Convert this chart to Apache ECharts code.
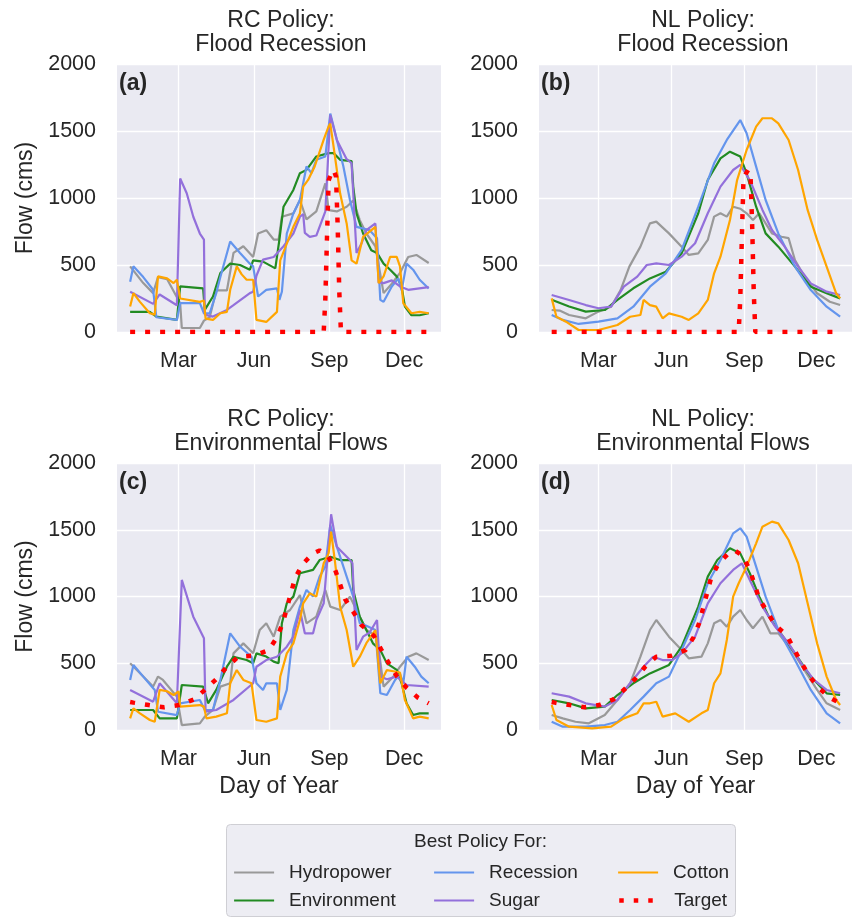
<!DOCTYPE html>
<html>
<head>
<meta charset="utf-8">
<script src="https://cdn.jsdelivr.net/npm/echarts@6/dist/echarts.min.js"></script>
<style>
  html, body { margin: 0; padding: 0; background: #ffffff; }
  #chart { width: 852px; height: 917px; }
</style>
</head>
<body>
<div id="chart"></div>
<script>
// Daily flow (cms) by day of year for the best policy of each objective.
// Each series is a list of [dayOfYear, flow] pairs.

const MONTH_TICKS = [60, 152, 244, 335];
const MONTH_LABELS = ['Mar', 'Jun', 'Sep', 'Dec'];
const FLOW_TICKS = [0, 500, 1000, 1500, 2000];

const SERIES_NAMES = ['Hydropower', 'Environment', 'Recession', 'Sugar', 'Cotton', 'Target'];
const PANEL_TITLES = ['RC Policy:\nFlood Recession', 'NL Policy:\nFlood Recession',
                      'RC Policy:\nEnvironmental Flows', 'NL Policy:\nEnvironmental Flows'];
const PANEL_LETTERS = ['(a)', '(b)', '(c)', '(d)'];
const LEGEND_TITLE = 'Best Policy For:';

// Target hydrographs
const targetFloodRecession = [[1,0],[237,0],[239,250],[241,700],[243,1130],[246,1180],[249,1210],[252,1160],[254,800],[256,300],[258,0],[365,0]];
const targetEnvFlows = [[1,210],[5,205],[24,187],[42,170],[61,187],[79,230],[93,305],[107,387],[119,474],[133,549],[152,557],[170,599],[180,694],[187,799],[192,911],[197,1024],[202,1136],[211,1241],[224,1323],[232,1345],[242,1306],[251,1199],[257,1091],[263,981],[273,886],[283,786],[298,707],[307,604],[316,504],[326,405],[338,317],[352,242],[365,200]];

// (a) RC policy, flood recession target
const rcFloodHydro = [[1,490],[17,365],[29,290],[35,410],[46,395],[62,215],[64,30],[86,30],[91,85],[98,110],[106,310],[119,310],[127,590],[139,640],[151,560],[157,735],[167,760],[176,690],[182,690],[186,860],[200,885],[208,985],[216,840],[228,900],[239,1110],[243,910],[253,900],[265,935],[273,980],[281,835],[289,735],[300,640],[310,290],[320,360],[330,440],[340,560],[350,575],[365,515]];
const rcFloodEnv = [[1,150],[25,150],[33,115],[58,90],[62,340],[90,325],[92,165],[102,265],[111,440],[123,510],[135,500],[147,465],[151,535],[163,525],[178,475],[183,690],[188,935],[200,1060],[208,1185],[216,1210],[228,1310],[243,1335],[249,1335],[257,1285],[271,1275],[273,1085],[277,885],[285,735],[295,610],[302,590],[310,510],[318,465],[326,415],[332,340],[336,190],[344,125],[354,125],[365,140]];
const rcFloodRecession = [[1,375],[5,490],[17,410],[29,315],[33,110],[58,90],[62,215],[86,215],[91,140],[98,140],[106,290],[111,410],[123,675],[135,590],[147,510],[151,490],[157,265],[167,315],[180,325],[183,240],[186,300],[192,735],[200,885],[208,985],[216,1235],[222,1185],[228,1285],[239,1310],[245,1630],[249,1535],[261,1235],[269,985],[277,785],[293,760],[302,700],[306,240],[310,225],[320,340],[328,400],[332,310],[338,510],[346,465],[354,390],[365,325]];
const rcFloodSugar = [[1,300],[29,210],[37,280],[58,200],[62,1145],[70,1035],[78,860],[86,735],[91,690],[92,130],[102,115],[119,165],[127,200],[147,290],[151,300],[155,420],[163,540],[176,560],[188,640],[200,735],[208,860],[212,880],[214,740],[220,710],[228,720],[239,900],[245,1620],[253,1433],[265,1290],[271,1260],[277,590],[283,660],[289,760],[300,810],[304,370],[310,365],[320,385],[330,340],[340,315],[365,335]];
const rcFloodCotton = [[1,190],[5,290],[13,225],[25,140],[31,130],[35,415],[46,400],[54,365],[58,390],[62,250],[86,225],[91,235],[93,100],[102,90],[111,140],[119,150],[123,315],[131,490],[137,430],[143,390],[151,390],[155,90],[167,75],[180,150],[184,535],[192,660],[200,785],[208,885],[212,1085],[218,1135],[226,1235],[237,1435],[243,1535],[245,1555],[249,1385],[257,1035],[265,810],[271,535],[277,510],[285,710],[300,785],[304,365],[310,415],[318,560],[326,560],[330,490],[334,215],[344,140],[354,150],[365,140]];

// (b) NL policy, flood recession target
const nlFloodHydro = [[1,164],[11,160],[23,127],[44,102],[60,152],[76,189],[88,313],[99,488],[113,637],[125,811],[133,824],[149,736],[165,637],[174,575],[186,587],[198,687],[206,861],[214,886],[222,861],[230,935],[239,920],[247,886],[255,836],[263,886],[271,811],[279,736],[291,711],[300,700],[308,537],[320,413],[336,289],[352,226],[365,201]];
const nlFloodEnv = [[1,240],[23,190],[44,152],[68,164],[84,240],[104,326],[125,400],[145,450],[165,587],[186,886],[198,1134],[214,1296],[226,1346],[239,1309],[247,1184],[259,935],[271,736],[287,637],[308,488],[328,338],[348,289],[365,251]];
const nlFloodRecession = [[1,127],[15,90],[35,60],[60,77],[84,102],[104,189],[125,338],[145,438],[165,612],[186,935],[206,1259],[222,1433],[239,1582],[247,1483],[259,1234],[271,985],[287,736],[308,488],[328,313],[348,189],[365,114]];
const nlFloodSugar = [[1,276],[23,239],[44,201],[60,177],[76,189],[92,338],[109,413],[121,500],[133,512],[149,500],[165,562],[182,662],[198,886],[214,1085],[230,1209],[239,1247],[251,1134],[267,911],[279,761],[295,637],[312,488],[328,363],[348,301],[365,276]];
const nlFloodCotton = [[1,251],[7,114],[19,77],[35,15],[60,15],[84,52],[100,114],[113,127],[117,239],[125,201],[133,189],[141,102],[149,139],[165,114],[174,90],[186,139],[198,239],[206,438],[214,562],[226,836],[235,1134],[247,1358],[259,1533],[267,1595],[279,1595],[287,1557],[300,1433],[312,1209],[324,911],[336,687],[348,488],[360,289],[365,251]];

// (c) RC policy, environmental flows target
const rcEnvHydro = [[1,500],[17,400],[29,325],[35,400],[41,375],[58,250],[64,37],[86,50],[92,100],[102,150],[111,325],[123,350],[127,574],[139,649],[151,575],[159,749],[167,799],[176,699],[184,849],[196,899],[208,1011],[216,799],[228,849],[239,1049],[245,924],[257,899],[269,999],[281,849],[289,749],[302,700],[310,325],[322,400],[330,474],[340,549],[350,574],[365,524]];
const rcEnvEnv = [[1,150],[29,150],[37,87],[58,87],[64,337],[90,325],[96,200],[106,300],[119,474],[127,549],[143,524],[151,500],[155,574],[167,550],[176,512],[182,500],[186,799],[192,949],[200,999],[208,1174],[224,1199],[232,1273],[245,1298],[257,1273],[271,1273],[273,1049],[281,849],[289,749],[297,649],[306,599],[314,499],[326,450],[332,350],[338,200],[346,112],[354,125],[365,125]];
const rcEnvRecession = [[1,375],[5,487],[17,400],[31,300],[35,137],[58,112],[62,200],[86,225],[92,150],[102,150],[111,375],[123,724],[135,624],[149,549],[155,350],[163,300],[167,350],[180,350],[184,150],[192,300],[200,749],[208,924],[216,1049],[224,1000],[232,1149],[239,1224],[245,1536],[253,1373],[265,1149],[273,999],[281,799],[289,780],[300,749],[306,275],[314,262],[324,375],[330,420],[334,350],[338,549],[348,474],[356,400],[365,350]];
const rcEnvSugar = [[1,300],[29,212],[37,350],[58,200],[64,1124],[78,849],[91,687],[93,137],[106,150],[127,225],[151,350],[155,474],[167,524],[180,549],[192,624],[200,699],[208,899],[214,724],[224,724],[228,824],[237,949],[246,1616],[253,1373],[269,1273],[272,1250],[277,599],[285,699],[293,730],[302,824],[306,400],[314,380],[326,400],[338,337],[365,325]];
const rcEnvCotton = [[1,87],[5,162],[13,125],[25,75],[31,62],[37,300],[46,290],[54,262],[60,290],[62,175],[86,187],[91,175],[94,87],[106,100],[119,125],[123,350],[131,449],[139,375],[149,350],[155,75],[167,62],[180,87],[184,400],[192,574],[200,649],[208,824],[212,949],[220,1024],[228,999],[237,1249],[243,1323],[246,1486],[251,1249],[257,924],[265,749],[273,474],[281,549],[289,650],[300,749],[306,350],[314,449],[322,440],[330,430],[336,225],[346,87],[354,100],[365,87]];

// (d) NL policy, environmental flows target
const nlEnvHydro = [[1,112],[15,87],[31,62],[48,50],[68,112],[84,225],[100,350],[113,549],[125,749],[133,824],[149,699],[165,599],[174,537],[190,549],[198,649],[206,799],[214,824],[222,774],[230,849],[239,899],[247,824],[255,762],[267,849],[277,724],[287,724],[304,599],[320,449],[336,300],[348,200],[365,150]];
const nlEnvEnv = [[1,225],[23,200],[44,162],[68,175],[84,262],[104,350],[125,424],[149,487],[165,624],[186,924],[198,1149],[210,1273],[226,1361],[239,1323],[251,1174],[263,999],[275,849],[287,749],[308,574],[328,400],[348,275],[365,262]];
const nlEnvRecession = [[1,62],[15,25],[44,25],[68,37],[84,62],[100,150],[117,250],[133,350],[149,400],[165,599],[182,824],[198,1099],[214,1273],[230,1473],[239,1511],[247,1448],[259,1224],[271,999],[287,749],[308,524],[328,300],[348,125],[365,50]];
const nlEnvSugar = [[1,275],[23,250],[44,200],[68,175],[84,225],[100,350],[117,474],[129,549],[141,524],[153,524],[165,574],[182,699],[198,949],[214,1099],[230,1199],[241,1249],[251,1124],[267,924],[283,774],[300,649],[316,499],[332,375],[348,300],[365,275]];
const nlEnvCotton = [[1,187],[7,75],[23,25],[52,12],[76,25],[92,87],[109,125],[117,200],[125,200],[133,212],[141,100],[157,125],[174,62],[190,125],[198,150],[206,350],[214,424],[222,674],[230,999],[237,1099],[247,1224],[259,1398],[267,1523],[279,1561],[287,1548],[300,1423],[312,1249],[324,949],[336,649],[348,400],[360,225],[365,187]];

const PANEL_DATA = [
  [rcFloodHydro, rcFloodEnv, rcFloodRecession, rcFloodSugar, rcFloodCotton, targetFloodRecession],
  [nlFloodHydro, nlFloodEnv, nlFloodRecession, nlFloodSugar, nlFloodCotton, targetFloodRecession],
  [rcEnvHydro, rcEnvEnv, rcEnvRecession, rcEnvSugar, rcEnvCotton, targetEnvFlows],
  [nlEnvHydro, nlEnvEnv, nlEnvRecession, nlEnvSugar, nlEnvCotton, targetEnvFlows]
];

// ---- styling / layout ----
const FONT = '"Liberation Sans", Arial, sans-serif';
const INK = '#262626';
const COLORS = ['#999999', '#228b22', '#6495ed', '#9370db', '#ffa500', '#ff0000'];
const TARGET_DASH = [5, 10];
const GRIDS = [
  { left: 117, top: 64, width: 324, height: 268 },
  { left: 539, top: 64, width: 324, height: 268 },
  { left: 117, top: 463, width: 324, height: 267 },
  { left: 539, top: 463, width: 324, height: 267 }
];

const grid = GRIDS.map(g => ({
  left: g.left, top: g.top, width: g.width, height: g.height,
  show: true, backgroundColor: '#eaeaf2', borderWidth: 0, containLabel: false
}));

const xAxis = GRIDS.map((g, i) => ({
  type: 'value', gridIndex: i, min: -15, max: 380,
  axisLine: { show: false },
  axisTick: { show: false, customValues: MONTH_TICKS },
  axisLabel: {
    customValues: MONTH_TICKS,
    formatter: v => MONTH_LABELS[MONTH_TICKS.indexOf(v)] || '',
    fontFamily: FONT, fontSize: 21.5, color: INK, margin: 18
  },
  splitLine: { show: true, lineStyle: { color: '#ffffff', width: 1.3 } },
  name: i >= 2 ? 'Day of Year' : '',
  nameLocation: 'middle', nameGap: 45,
  nameTextStyle: { fontFamily: FONT, fontSize: 23, color: INK }
}));

const yAxis = GRIDS.map((g, i) => ({
  type: 'value', gridIndex: i, min: FLOW_TICKS[0], max: FLOW_TICKS[FLOW_TICKS.length - 1], interval: 500,
  axisLine: { show: false }, axisTick: { show: false },
  axisLabel: { fontFamily: FONT, fontSize: 21.5, color: INK, margin: 21, formatter: v => String(v) },
  splitLine: { show: true, lineStyle: { color: '#ffffff', width: 1.3 } },
  name: i % 2 === 0 ? 'Flow (cms)' : '',
  nameLocation: 'middle', nameGap: 80,
  nameTextStyle: { fontFamily: FONT, fontSize: 23, color: INK }
}));

const series = [];
PANEL_DATA.forEach((lines, p) => {
  lines.forEach((data, k) => {
    const isTarget = k === 5;
    series.push({
      type: 'line', name: SERIES_NAMES[k], data: data,
      xAxisIndex: p, yAxisIndex: p,
      symbol: 'none', showSymbol: false, animation: false,
      z: 2 + k,
      itemStyle: { color: COLORS[k] },
      lineStyle: isTarget
        ? { color: COLORS[k], width: 4.5, type: TARGET_DASH, cap: 'butt' }
        : { color: COLORS[k], width: 2.2 }
    });
  });
});

const title = GRIDS.map((g, i) => ({
  text: PANEL_TITLES[i],
  left: g.left + g.width / 2 + 2, top: i < 2 ? 9 : 408, padding: 0,
  textAlign: 'center',
  textStyle: { fontFamily: FONT, fontSize: 23, fontWeight: 'normal', color: INK, lineHeight: 24 }
}));

// One legend per entry so the entries sit in three columns of two rows.
const LEGEND_SLOTS = [
  { name: 'Hydropower', left: 233, top: 863 },
  { name: 'Environment', left: 233, top: 891 },
  { name: 'Recession', left: 433, top: 863 },
  { name: 'Sugar', left: 433, top: 891 },
  { name: 'Cotton', left: 617, top: 863 },
  { name: 'Target', left: 617, top: 891 }
];
const legend = LEGEND_SLOTS.map((s, i) => {
  const k = SERIES_NAMES.indexOf(s.name);
  return {
    data: [s.name], left: s.left, top: s.top, padding: 0,
    orient: 'horizontal', itemWidth: 40, itemHeight: 14,
    selectedMode: false,
    itemStyle: { opacity: 0, borderWidth: 0 },
    lineStyle: k === 5
      ? { color: COLORS[k], width: 4.5, type: [4.5, 10], cap: 'butt' }
      : { color: COLORS[k], width: 2.2, type: 'solid' },
    textStyle: { fontFamily: FONT, fontSize: 19, color: INK, lineHeight: 14, padding: [0, 0, 0, 10] }
  };
});

const graphic = [
  { type: 'rect', left: 226, top: 824, z: -1,
    shape: { width: 509, height: 92, r: 4 },
    style: { fill: '#ededf3', stroke: '#cfcfd4', lineWidth: 1 } },
  { type: 'text', left: 414, top: 832,
    style: { text: LEGEND_TITLE, fontFamily: FONT, fontSize: 19, fill: INK } }
].concat(GRIDS.map((g, i) => ({
  type: 'text', left: g.left + 2, top: g.top + 8, z: 20,
  style: { text: PANEL_LETTERS[i], fontFamily: FONT, fontSize: 23, fontWeight: 'bold', fill: INK }
})));

const chart = echarts.init(document.getElementById('chart'), null, { renderer: 'canvas' });
chart.setOption({
  animation: false,
  backgroundColor: '#ffffff',
  title, grid, xAxis, yAxis, series, legend, graphic
});
</script>
</body>
</html>
